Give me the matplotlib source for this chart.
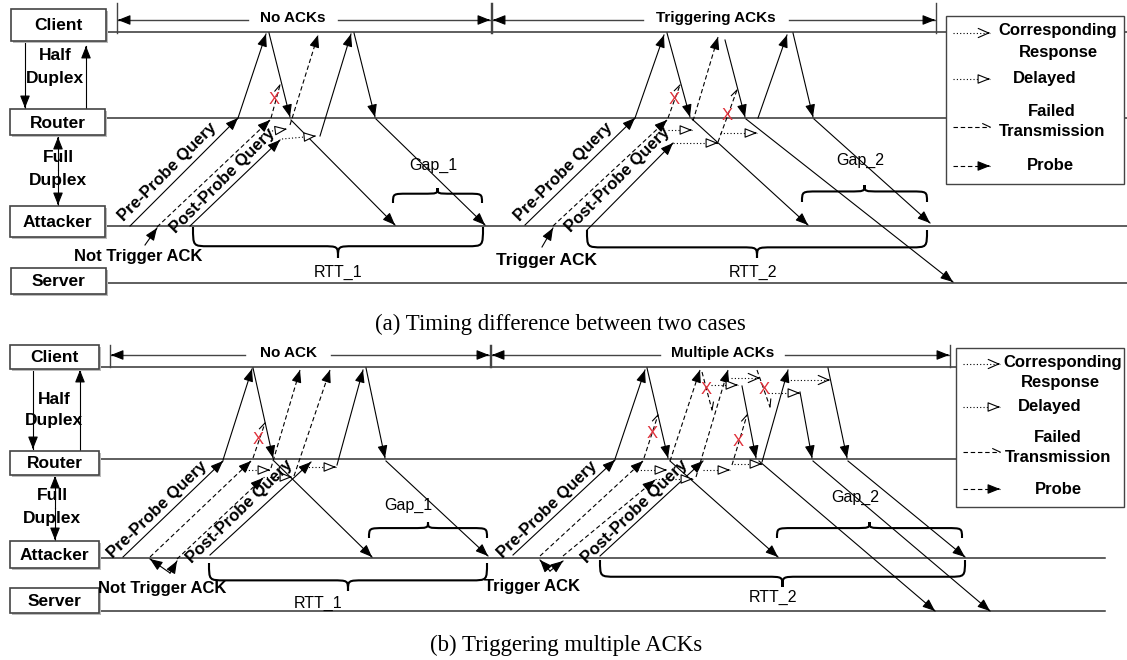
import numpy as np
import matplotlib
matplotlib.use("Agg")
import matplotlib.pyplot as plt
from matplotlib.patches import Rectangle, PathPatch
from matplotlib.path import Path

SANS = ['Liberation Sans', 'DejaVu Sans']
SERIF = ['Liberation Serif', 'DejaVu Serif']

#%% data (pixel positions)
roles = ['Client', 'Router', 'Attacker', 'Server']

top_lanes = [32, 118, 226, 283]
bot_lanes = [367, 459, 558, 611]

# solid message arrows (filled head)
top_solid = [((130, 226), (238, 118)), ((238, 118), (266, 34)), ((269, 33), (290, 117)),
             ((291, 120), (395, 225)), ((145, 245), (157, 228)),
             ((190, 226), (280, 140)), ((320, 136), (351, 34)), ((354, 33), (375, 117)),
             ((376, 119), (485, 225)),
             ((525, 225), (635, 118)), ((635, 118), (664, 35)), ((667, 33), (690, 117)),
             ((692, 119), (808, 225)), ((542, 247), (553, 228)),
             ((587, 230), (673, 143)), ((725, 40), (745, 117)), ((746, 119), (953, 282)),
             ((758, 118), (787, 35)), ((793, 33), (813, 117)), ((814, 119), (930, 223))]
bot_solid = [((123, 557), (223, 461)), ((223, 460), (252, 369)), ((253, 368), (273, 458)),
             ((274, 461), (372, 557)), ((170, 573), (150, 559)), ((170, 573), (177, 561)),
             ((210, 555), (311, 462)), ((337, 465), (363, 370)), ((366, 368), (385, 458)),
             ((386, 461), (488, 556)),
             ((513, 555), (615, 460)), ((615, 459), (645, 370)), ((647, 368), (668, 458)),
             ((670, 461), (778, 557)), ((550, 571), (540, 560)), ((550, 571), (563, 561)),
             ((742, 386), (756, 458)), ((759, 461), (935, 611)),
             ((800, 392), (812, 458)), ((813, 461), (990, 611)),
             ((600, 556), (703, 461)), ((762, 462), (788, 370)),
             ((828, 368), (847, 458)), ((848, 461), (965, 557))]

# dashed probes (filled head)
top_probe = [((157, 227), (270, 120)), ((290, 125), (318, 35)),
             ((553, 226), (667, 120)), ((693, 121), (718, 37))]
bot_probe = [((150, 557), (251, 461)), ((271, 468), (300, 370)),
             ((177, 559), (263, 478)), ((294, 476), (330, 370)),
             ((540, 556), (643, 461)), ((670, 461), (700, 370)),
             ((563, 556), (655, 480)), ((696, 477), (728, 370))]

# dashed failed transmissions (half head) and the red crosses on them
top_failed = [((271, 118), (280, 85)), ((668, 118), (680, 85)), ((718, 142), (737, 90))]
bot_failed = [((253, 458), (265, 423)), ((644, 458), (658, 415)), ((702, 372), (712, 410)),
              ((757, 370), (770, 407)), ((732, 465), (747, 415))]
top_cross = [(274, 99), (674, 99), (727, 115)]
bot_cross = [(258, 440), (652, 434), (706, 390), (764, 389), (738, 441)]

# dotted delayed (open triangle head)
top_delayed = [((272, 131), (287, 129)), ((282, 139), (316, 136)),
               ((668, 130), (692, 130)), ((673, 143), (718, 143)), ((720, 133), (757, 133))]
bot_delayed = [((245, 470), (270, 470)), ((263, 477), (292, 477)), ((305, 467), (336, 467)),
               ((637, 470), (667, 470)), ((711, 385), (738, 385)), ((655, 479), (693, 479)),
               ((768, 393), (800, 393)), ((703, 470), (730, 470)), ((734, 464), (762, 464))]

# dotted corresponding responses (open v head)
bot_corr = [((731, 378), (760, 378)), ((787, 380), (830, 380))]

# braces: (x0, x1, base, tip)
top_braces = [(393, 482, 203, 188), (193, 483, 227, 258), (802, 927, 202, 185), (587, 927, 230, 258)]
bot_braces = [(369, 487, 538, 522), (209, 487, 563, 591), (777, 962, 538, 522), (600, 965, 560, 587)]

top_spans = [('No ACKs', 117, 491, 248, 338), ('Triggering ACKs', 492, 936, 643, 789)]
bot_spans = [('No ACK', 110, 490, 245, 331), ('Multiple ACKs', 491, 950, 660, 785)]

captions = ['(a) Timing difference between two cases', '(b) Triggering multiple ACKs']

#%% drawing helpers
fig = plt.figure(figsize=(11.27, 6.6), dpi=100)
ax = fig.add_axes([0, 0, 1, 1])
ax.set_xlim(0, 1127)
ax.set_ylim(660, 0)
ax.axis('off')

DASH = (0, (4, 2.5))
DOT = (0, (1, 2))
LW = 0.8


def head(p0, p1, kind, z=4):
    p0 = np.array(p0, float)
    p1 = np.array(p1, float)
    u = (p1 - p0) / np.hypot(*(p1 - p0))
    if kind == 'half':
        a = np.radians(25)
        r = np.array([[np.cos(a), -np.sin(a)], [np.sin(a), np.cos(a)]])
        b = p1 - r.dot(u) * 8
        ax.plot([p1[0], b[0]], [p1[1], b[1]], color='k', lw=LW, zorder=z)
        return
    if kind == 'open':
        style = '->,head_length=0.5,head_width=0.22'
        fc = 'none'
    else:
        style = '-|>,head_length=0.5,head_width=0.2'
        fc = 'k' if kind == 'fill' else 'white'
    ax.annotate('', xy=p1, xytext=p1 - u * 2,
                arrowprops=dict(arrowstyle=style, fc=fc, ec='k', lw=LW,
                                shrinkA=0, shrinkB=0, mutation_scale=15), zorder=z)


def arrows(segs, ls, kind):
    for p0, p1 in segs:
        ax.plot([p0[0], p1[0]], [p0[1], p1[1]], color='k', lw=LW, linestyle=ls, zorder=3)
        head(p0, p1, kind)


def brace(x0, x1, yb, yt):
    ym = yb + (yt - yb) * 0.62
    xm = (x0 + x1) / 2.0
    r = min(16, (x1 - x0) / 6.0)
    verts = [(x0, yb), (x0, ym), (x0, ym), (x0 + r, ym), (xm - r, ym),
             (xm, ym), (xm, ym), (xm, yt), (xm, ym), (xm, ym), (xm + r, ym),
             (x1 - r, ym), (x1, ym), (x1, ym), (x1, yb)]
    C, L = Path.CURVE4, Path.LINETO
    codes = [Path.MOVETO, C, C, C, L, C, C, C, C, C, C, L, C, C, C]
    ax.add_patch(PathPatch(Path(verts, codes), fc='none', ec='k', lw=1.5, zorder=3))


def box(x0, y0, x1, y1, label):
    ax.add_patch(Rectangle((x0 + 2, y0 + 2), x1 - x0, y1 - y0, fc='#bbbbbb', ec='none', zorder=5))
    ax.add_patch(Rectangle((x0, y0), x1 - x0, y1 - y0, fc='white', ec='#444444', lw=1.2, zorder=6))
    ax.text((x0 + x1) / 2.0, (y0 + y1) / 2.0 + 1, label, ha='center', va='center',
            fontsize=12.5, fontweight='bold', family=SANS, zorder=7)


def bold(x, y, s, size=12, **kw):
    ax.text(x, y, s, ha='center', va='center', fontsize=size, fontweight='bold',
            family=SANS, zorder=8, **kw)


def reg(x, y, s, size=11.5):
    ax.text(x, y, s, ha='center', va='center', fontsize=size, family=SANS, zorder=8)


def span(name, xa, xb, la, ra, y, yt0, yt1, tx):
    for x in (xa, xb):
        ax.plot([x, x], [yt0, yt1], color='#444444', lw=1, zorder=3)
    for p0, p1 in (((la, y), (xa + 1, y)), ((ra, y), (xb - 1, y))):
        ax.plot([p0[0], p1[0]], [y, y], color='#444444', lw=1, zorder=3)
        head(p0, p1, 'fill')
    bold(tx, y - 2, name, size=11)


def legend(x0, y0, x1, y1, rows):
    ax.add_patch(Rectangle((x0, y0), x1 - x0, y1 - y0, fc='white', ec='#444444', lw=1, zorder=6))
    lx0, lx1 = x0 + 7, x0 + 44
    kinds = [(DOT, 'open'), (DOT, 'tri'), (DASH, 'half'), (DASH, 'fill')]
    for (ly, texts), (ls, kind) in zip(rows, kinds):
        ax.plot([lx0, lx1], [ly, ly], color='k', lw=LW, linestyle=ls, zorder=7)
        head((lx0, ly), (lx1, ly), kind, z=8)
        for tx, ty, s in texts:
            bold(tx, ty, s, size=12)


#%% panel (a)
for y in top_lanes:
    ax.plot([105, 1127], [y, y], color='#333333', lw=1.1, zorder=2)
for (x0, y0, x1, y1), name in zip([(11, 9, 106, 41), (10, 109, 105, 135),
                                   (10, 206, 105, 237), (11, 268, 106, 294)], roles):
    box(x0, y0, x1, y1, name)

arrows([((25, 41), (25, 108))], '-', 'fill')
arrows([((86, 109), (86, 46))], '-', 'fill')
arrows([((58, 170), (58, 137)), ((58, 170), (58, 205))], '-', 'fill')
bold(55, 55, 'Half', 12.5)
bold(55, 78, 'Duplex', 12.5)
bold(58, 157, 'Full', 12.5)
bold(58, 180, 'Duplex', 12.5)

for name, xa, xb, la, ra in top_spans:
    span(name, xa, xb, la, ra, 20, 3, 33, (la + ra) / 2.0)

arrows(top_solid, '-', 'fill')
arrows(top_probe, DASH, 'fill')
arrows(top_failed, DASH, 'half')
arrows(top_delayed, DOT, 'tri')
for x, y in top_cross:
    ax.text(x, y, 'X', color='#e0303a', fontsize=12, ha='center', va='center', family=SANS, zorder=8)
for b in top_braces:
    brace(*b)

bold(167, 172, 'Pre-Probe Query', 12, rotation=45, rotation_mode='anchor')
bold(223, 181, 'Post-Probe Query', 12, rotation=45, rotation_mode='anchor')
bold(563, 172, 'Pre-Probe Query', 12, rotation=45, rotation_mode='anchor')
bold(618, 180, 'Post-Probe Query', 12, rotation=45, rotation_mode='anchor')
bold(138, 257, 'Not Trigger ACK', 12)
bold(547, 261, 'Trigger ACK', 12.5)
reg(433, 165, 'Gap_1')
reg(338, 272, 'RTT_1')
reg(860, 160, 'Gap_2')
reg(753, 272, 'RTT_2')

legend(946, 16, 1124, 184,
       [(33, [(1058, 30, 'Corresponding'), (1058, 52, 'Response')]),
        (79, [(1045, 78, 'Delayed')]),
        (127, [(1052, 112, 'Failed'), (1052, 131, 'Transmission')]),
        (166, [(1050, 166, 'Probe')])])

ax.text(560, 324, captions[0], ha='center', va='center', fontsize=16.5, family=SERIF)

#%% panel (b)
bot_ends = [956, 956, 1105, 1105]
for y, xe in zip(bot_lanes, bot_ends):
    ax.plot([99, xe], [y, y], color='#333333', lw=1.1, zorder=2)
for (x0, y0, x1, y1), name in zip([(10, 345, 99, 369), (10, 451, 99, 475),
                                   (10, 541, 99, 568), (10, 588, 99, 613)], roles):
    box(x0, y0, x1, y1, name)

arrows([((33, 369), (33, 449))], '-', 'fill')
arrows([((80, 451), (80, 370))], '-', 'fill')
arrows([((55, 508), (55, 476)), ((55, 508), (55, 540))], '-', 'fill')
bold(54, 399, 'Half', 12.5)
bold(54, 421, 'Duplex', 12.5)
bold(52, 496, 'Full', 12.5)
bold(52, 518, 'Duplex', 12.5)

for name, xa, xb, la, ra in bot_spans:
    span(name, xa, xb, la, ra, 355, 345, 367, (la + ra) / 2.0)

arrows(bot_solid, '-', 'fill')
arrows(bot_probe, DASH, 'fill')
arrows(bot_failed, DASH, 'half')
arrows(bot_delayed, DOT, 'tri')
arrows(bot_corr, DOT, 'open')
for x, y in bot_cross:
    ax.text(x, y, 'X', color='#e0303a', fontsize=12, ha='center', va='center', family=SANS, zorder=8)
for b in bot_braces:
    brace(*b)

bold(157, 510, 'Pre-Probe Query', 12, rotation=44, rotation_mode='anchor')
bold(240, 512, 'Post-Probe Query', 12, rotation=44, rotation_mode='anchor')
bold(547, 510, 'Pre-Probe Query', 12, rotation=44, rotation_mode='anchor')
bold(635, 512, 'Post-Probe Query', 12, rotation=44, rotation_mode='anchor')
bold(162, 589, 'Not Trigger ACK', 12)
bold(532, 587, 'Trigger ACK', 12)
reg(408, 505, 'Gap_1')
reg(318, 603, 'RTT_1')
reg(855, 497, 'Gap_2')
reg(773, 597, 'RTT_2')

legend(956, 348, 1124, 507,
       [(364, [(1063, 363, 'Corresponding'), (1060, 382, 'Response')]),
        (407, [(1050, 407, 'Delayed')]),
        (452, [(1058, 438, 'Failed'), (1058, 457, 'Transmission')]),
        (489, [(1058, 489, 'Probe')])])

ax.text(566, 645, captions[1], ha='center', va='center', fontsize=16.5, family=SERIF)

fig.savefig('out.png', dpi=100)
